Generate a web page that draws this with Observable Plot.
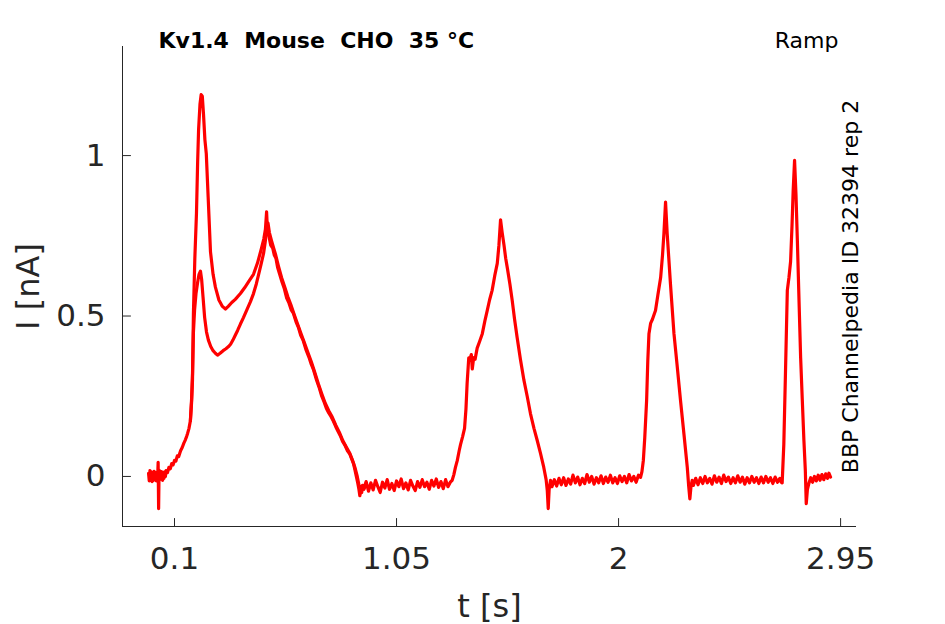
<!DOCTYPE html>
<html><head><meta charset="utf-8">
<script src="https://cdn.jsdelivr.net/npm/d3@7"></script>
<script src="https://cdn.jsdelivr.net/npm/@observablehq/plot@0.6"></script>
<style>body{margin:0;background:#fff;}</style>
</head><body><div id="chart"></div>
<script>
const xTicks = [0.1, 1.05, 2, 2.95];
const yTicks = [0, 0.5, 1];
const xDomain = [-0.1225, 3.018];
const yDomain = [-0.156, 1.34];
const titleText = "Kv1.4\u00a0 Mouse\u00a0 CHO\u00a0 35 °C";
const protocolText = "Ramp";
const sideText = "BBP Channelpedia ID 32394 rep 2";

// sweep 1: [t (s), I (nA)]
const base0 = [[-0.011,0.010],[-0.008,-0.014],[-0.005,0.018],[-0.002,-0.006],[0.001,0.014],[0.004,-0.016],[0.007,0.010],[0.010,-0.012],[0.013,0.016],[0.016,-0.008],[0.019,0.012],[0.022,-0.014],[0.025,0.008],[0.028,0.000],[0.030,0.044],[0.032,-0.100],[0.034,0.020],[0.037,-0.010],[0.040,0.016],[0.043,-0.008],[0.046,0.014],[0.049,-0.012],[0.052,0.012],[0.055,-0.006],[0.058,0.014],[0.061,0.000],[0.064,0.018]];
const hump1 = [[0.070,0.012],[0.076,0.028],[0.082,0.024],[0.088,0.040],[0.094,0.036],[0.100,0.050],[0.106,0.048],[0.112,0.064],[0.118,0.062],[0.126,0.080],[0.133,0.090],[0.140,0.104],[0.147,0.115],[0.152,0.125],[0.156,0.134],[0.162,0.150],[0.168,0.174],[0.173,0.230],[0.177,0.300],[0.181,0.510],[0.187,0.680],[0.194,0.820],[0.199,0.980],[0.203,1.080],[0.209,1.160],[0.214,1.190],[0.219,1.185],[0.224,1.130],[0.230,1.050],[0.236,1.006],[0.244,0.870],[0.254,0.700],[0.265,0.630],[0.275,0.590],[0.290,0.550],[0.305,0.530],[0.318,0.522],[0.330,0.530],[0.345,0.542],[0.360,0.552],[0.382,0.570],[0.400,0.588],[0.420,0.610],[0.438,0.630],[0.455,0.665],[0.470,0.705],[0.482,0.740],[0.489,0.770],[0.494,0.825],[0.498,0.762],[0.505,0.745],[0.512,0.720],[0.520,0.712],[0.527,0.690],[0.534,0.680],[0.541,0.652],[0.550,0.630],[0.560,0.606],[0.570,0.585],[0.580,0.556],[0.590,0.540],[0.600,0.518],[0.609,0.508],[0.620,0.482],[0.630,0.465],[0.640,0.440],[0.650,0.425],[0.662,0.396],[0.675,0.372],[0.685,0.350],[0.695,0.332],[0.708,0.300],[0.720,0.275],[0.730,0.250],[0.740,0.232],[0.750,0.212],[0.760,0.198],[0.770,0.186],[0.780,0.172],[0.790,0.155],[0.800,0.140],[0.810,0.126],[0.820,0.108],[0.830,0.096],[0.840,0.080],[0.850,0.070],[0.858,0.055],[0.866,0.040],[0.872,0.020],[0.878,0.000],[0.884,-0.020],[0.889,-0.040],[0.893,-0.060],[0.897,-0.035],[0.901,-0.050],[0.905,-0.028]];
const gap1 = [[0.91,-0.038],[0.92,-0.016],[0.93,-0.046],[0.94,-0.020],[0.95,-0.042],[0.96,-0.012],[0.97,-0.032],[0.98,-0.050],[0.99,-0.018],[1.00,-0.036],[1.01,-0.010],[1.02,-0.040],[1.03,-0.022],[1.04,-0.044],[1.05,-0.014],[1.06,-0.032],[1.07,-0.008],[1.08,-0.038],[1.09,-0.020],[1.10,-0.042],[1.11,-0.012],[1.12,-0.030],[1.13,-0.044],[1.14,-0.016],[1.15,-0.034],[1.16,-0.010],[1.17,-0.032],[1.18,-0.018],[1.19,-0.040],[1.20,-0.012],[1.21,-0.030],[1.22,-0.008],[1.23,-0.034],[1.24,-0.016],[1.25,-0.038],[1.26,-0.010],[1.27,-0.032],[1.28,-0.018]];
const hump2 = [[1.288,-0.012],[1.295,0.005],[1.302,0.028],[1.310,0.050],[1.318,0.080],[1.324,0.100],[1.333,0.125],[1.341,0.150],[1.347,0.210],[1.352,0.290],[1.359,0.370],[1.364,0.365],[1.370,0.380],[1.374,0.335],[1.380,0.370],[1.386,0.365],[1.395,0.400],[1.405,0.420],[1.417,0.445],[1.428,0.485],[1.438,0.517],[1.448,0.550],[1.459,0.580],[1.470,0.625],[1.481,0.664],[1.488,0.720],[1.495,0.800],[1.502,0.760],[1.510,0.720],[1.517,0.680],[1.524,0.650],[1.535,0.600],[1.545,0.548],[1.555,0.490],[1.566,0.433],[1.580,0.365],[1.595,0.300],[1.609,0.250],[1.623,0.196],[1.638,0.150],[1.652,0.112],[1.666,0.072],[1.680,0.028],[1.690,-0.010],[1.695,-0.044],[1.699,-0.100],[1.703,-0.040],[1.709,-0.012]];
const gap2 = [[1.715,-0.032],[1.725,-0.010],[1.735,-0.030],[1.745,-0.006],[1.755,-0.026],[1.765,-0.004],[1.775,-0.028],[1.785,-0.008],[1.795,-0.024],[1.805,0.004],[1.815,-0.020],[1.825,-0.002],[1.835,-0.026],[1.845,-0.006],[1.855,-0.022],[1.865,0.006],[1.875,-0.018],[1.885,0.000],[1.895,-0.024],[1.905,-0.004],[1.915,-0.020],[1.925,0.002],[1.935,-0.022],[1.945,-0.002],[1.955,-0.018],[1.965,0.004],[1.975,-0.020],[1.985,-0.004],[1.995,-0.022],[2.005,0.002],[2.015,-0.016],[2.025,0.000],[2.035,-0.020],[2.045,0.006],[2.055,-0.014],[2.065,0.000],[2.075,-0.018],[2.085,0.004]];
const hump3 = [[2.094,-0.003],[2.100,0.015],[2.106,0.050],[2.112,0.120],[2.120,0.237],[2.125,0.360],[2.130,0.445],[2.137,0.477],[2.145,0.490],[2.152,0.505],[2.158,0.517],[2.168,0.565],[2.180,0.620],[2.188,0.690],[2.194,0.757],[2.201,0.855],[2.208,0.757],[2.222,0.600],[2.237,0.445],[2.250,0.350],[2.265,0.237],[2.280,0.130],[2.294,0.028],[2.300,-0.030],[2.305,-0.070],[2.310,-0.030],[2.315,-0.012]];
const gap3 = [[2.320,-0.028],[2.330,-0.006],[2.340,-0.026],[2.350,-0.004],[2.360,-0.022],[2.370,0.000],[2.380,-0.020],[2.390,-0.006],[2.400,-0.024],[2.410,0.002],[2.420,-0.018],[2.430,-0.002],[2.440,-0.022],[2.450,0.004],[2.460,-0.016],[2.470,-0.002],[2.480,-0.022],[2.490,-0.004],[2.500,-0.020],[2.510,0.002],[2.520,-0.018],[2.530,-0.002],[2.540,-0.024],[2.550,-0.004],[2.560,-0.020],[2.570,0.000],[2.580,-0.018],[2.590,-0.004],[2.600,-0.022],[2.610,-0.002],[2.620,-0.020],[2.630,0.000],[2.640,-0.018],[2.650,-0.004],[2.660,-0.022],[2.670,-0.002],[2.680,-0.018],[2.690,-0.006],[2.696,-0.018]];
const hump4 = [[2.700,-0.020],[2.707,0.100],[2.714,0.320],[2.722,0.580],[2.729,0.620],[2.736,0.670],[2.742,0.780],[2.747,0.890],[2.753,0.985],[2.759,0.880],[2.765,0.735],[2.772,0.550],[2.779,0.370],[2.786,0.240],[2.793,0.112],[2.799,0.020],[2.803,-0.085],[2.808,-0.040]];
const tail = [[2.814,-0.022],[2.822,-0.004],[2.830,-0.018],[2.838,0.000],[2.846,-0.014],[2.854,0.004],[2.862,-0.012],[2.870,0.006],[2.878,-0.010],[2.886,0.008],[2.894,-0.006],[2.900,0.010],[2.907,-0.002]];

// sweep 2 differs in the first response
const sweep2 = [[0.168,0.174],[0.173,0.240],[0.177,0.320],[0.181,0.450],[0.186,0.520],[0.192,0.570],[0.199,0.605],[0.205,0.630],[0.211,0.640],[0.216,0.615],[0.222,0.560],[0.229,0.495],[0.237,0.450],[0.245,0.425],[0.255,0.405],[0.265,0.392],[0.275,0.384],[0.284,0.378],[0.295,0.384],[0.308,0.392],[0.320,0.398],[0.330,0.404],[0.340,0.412],[0.350,0.425],[0.360,0.440],[0.370,0.455],[0.382,0.475],[0.395,0.495],[0.410,0.520],[0.425,0.545],[0.438,0.570],[0.450,0.600],[0.460,0.630],[0.470,0.660],[0.481,0.695],[0.488,0.730],[0.494,0.770],[0.500,0.790],[0.506,0.760],[0.515,0.735],[0.524,0.712],[0.533,0.690],[0.545,0.655],[0.558,0.620],[0.572,0.590],[0.585,0.560],[0.598,0.535],[0.612,0.505],[0.625,0.478],[0.640,0.448],[0.655,0.418],[0.670,0.388],[0.685,0.358],[0.700,0.325],[0.715,0.290],[0.730,0.258],[0.745,0.228],[0.760,0.205],[0.775,0.185],[0.790,0.160],[0.805,0.138],[0.820,0.112],[0.835,0.092],[0.850,0.072],[0.862,0.050],[0.872,0.028],[0.882,0.000],[0.890,-0.030],[0.896,-0.052],[0.902,-0.030],[0.910,-0.040],[0.920,-0.022]];

const sweep1 = [...base0, ...hump1, ...gap1, ...hump2, ...gap2, ...hump3, ...gap3, ...hump4, ...tail];
const data = [
  ...sweep1.map(([t, I]) => ({t, I, sweep: "1"})),
  ...sweep2.map(([t, I]) => ({t, I, sweep: "2"}))
];

const ink = "#262626";
const tickShape = {draw(context, l) { context.moveTo(0, 0); context.lineTo(0, -l); }};

const chart = Plot.plot({
  width: 945,
  height: 624,
  marginLeft: 122,
  marginRight: 89,
  marginTop: 46,
  marginBottom: 98,
  style: {fontFamily: "'DejaVu Sans', sans-serif", color: ink, background: "#fff"},
  x: {domain: xDomain},
  y: {domain: yDomain},
  marks: [
    Plot.line(data, {x: "t", y: "I", z: "sweep", stroke: "#ff0000", strokeWidth: 3.2, strokeLinejoin: "round"}),
    Plot.ruleX([xDomain[0]], {stroke: ink, strokeWidth: 1}),
    Plot.ruleY([yDomain[0]], {stroke: ink, strokeWidth: 1}),
    Plot.vector(xTicks, {x: d => d, frameAnchor: "bottom", length: 8, anchor: "start", shape: tickShape, stroke: ink, strokeWidth: 1}),
    Plot.vector(yTicks, {y: d => d, frameAnchor: "left", length: 8, rotate: 90, anchor: "start", shape: tickShape, stroke: ink, strokeWidth: 1}),
    Plot.axisX(xTicks, {anchor: "bottom", tickSize: 0, tickPadding: 20, fontSize: 31, fill: ink, label: null, tickFormat: d => String(d)}),
    Plot.axisY(yTicks, {anchor: "left", tickSize: 0, tickPadding: 17, fontSize: 31, fill: ink, label: null, tickFormat: d => String(d)}),
    Plot.text(["t [s]"], {frameAnchor: "bottom", dy: 80, lineAnchor: "middle", textAnchor: "middle", fontSize: 32, fill: ink}),
    Plot.text(["I [nA]"], {frameAnchor: "left", dx: -94, rotate: -90, textAnchor: "middle", lineAnchor: "middle", fontSize: 32, fill: ink}),
    Plot.text([titleText], {frameAnchor: "top-left", dx: 36, dy: -6, textAnchor: "start", lineAnchor: "middle", fontSize: 22, fontWeight: "bold", fill: "#000"}),
    Plot.text([protocolText], {frameAnchor: "top-right", dx: -18, dy: -6, textAnchor: "end", lineAnchor: "middle", fontSize: 22, fill: "#000"}),
    Plot.text([sideText], {frameAnchor: "right", dx: -6, rotate: -90, textAnchor: "middle", lineAnchor: "middle", fontSize: 22, fill: "#000"})
  ]
});
document.getElementById("chart").append(chart);
</script>
</body></html>
